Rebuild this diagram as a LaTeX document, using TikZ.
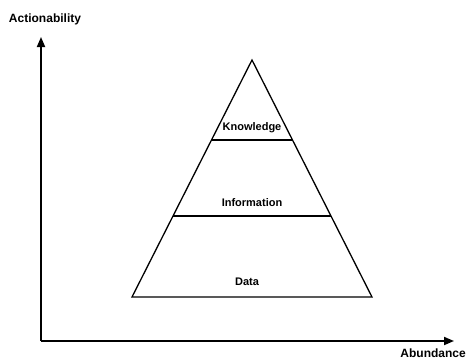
\documentclass[tikz,border=0pt]{standalone}
\usepackage{fontspec}
\setmainfont{Liberation Sans}
\usetikzlibrary{arrows.meta}
\begin{document}
\begin{tikzpicture}[x=1pt,y=-1pt,
  lbl/.style={font=\bfseries\fontsize{11}{13}\selectfont, inner sep=0pt},
  axlbl/.style={font=\bfseries\fontsize{12}{14}\selectfont, inner sep=0pt},
  axis/.style={line width=1.8pt, -{Triangle[length=10pt,width=8pt]}},
  pyr/.style={line width=1.3pt, line join=miter}]
\useasboundingbox (0,0) rectangle (467,359);
\coordinate (o) at (41,341);
\coordinate (ytip) at (41,37);
\coordinate (xtip) at (454,341);
\draw[axis] (o) -- (ytip);
\draw[axis] (o) -- (xtip);
\node[axlbl] (ylab) at (45,19) {Actionability};
\node[axlbl, anchor=east] (xlab) at (466,353) {Abundance};
\coordinate (apex) at (252,60);
\coordinate (bl) at (132,297);
\coordinate (br) at (372,297);
\draw[pyr] (apex) -- (br) -- (bl) -- cycle;
\coordinate (k1) at (211.5,140);
\coordinate (k2) at (292.5,140);
\coordinate (i1) at (173,216);
\coordinate (i2) at (331,216);
\draw[pyr] (k1) -- (k2);
\draw[pyr] (i1) -- (i2);
\node[lbl] (know) at (252,128) {Knowledge};
\node[lbl] (info) at (252,203) {Information};
\node[lbl] (data) at (247,282) {Data};
\end{tikzpicture}
\end{document}
